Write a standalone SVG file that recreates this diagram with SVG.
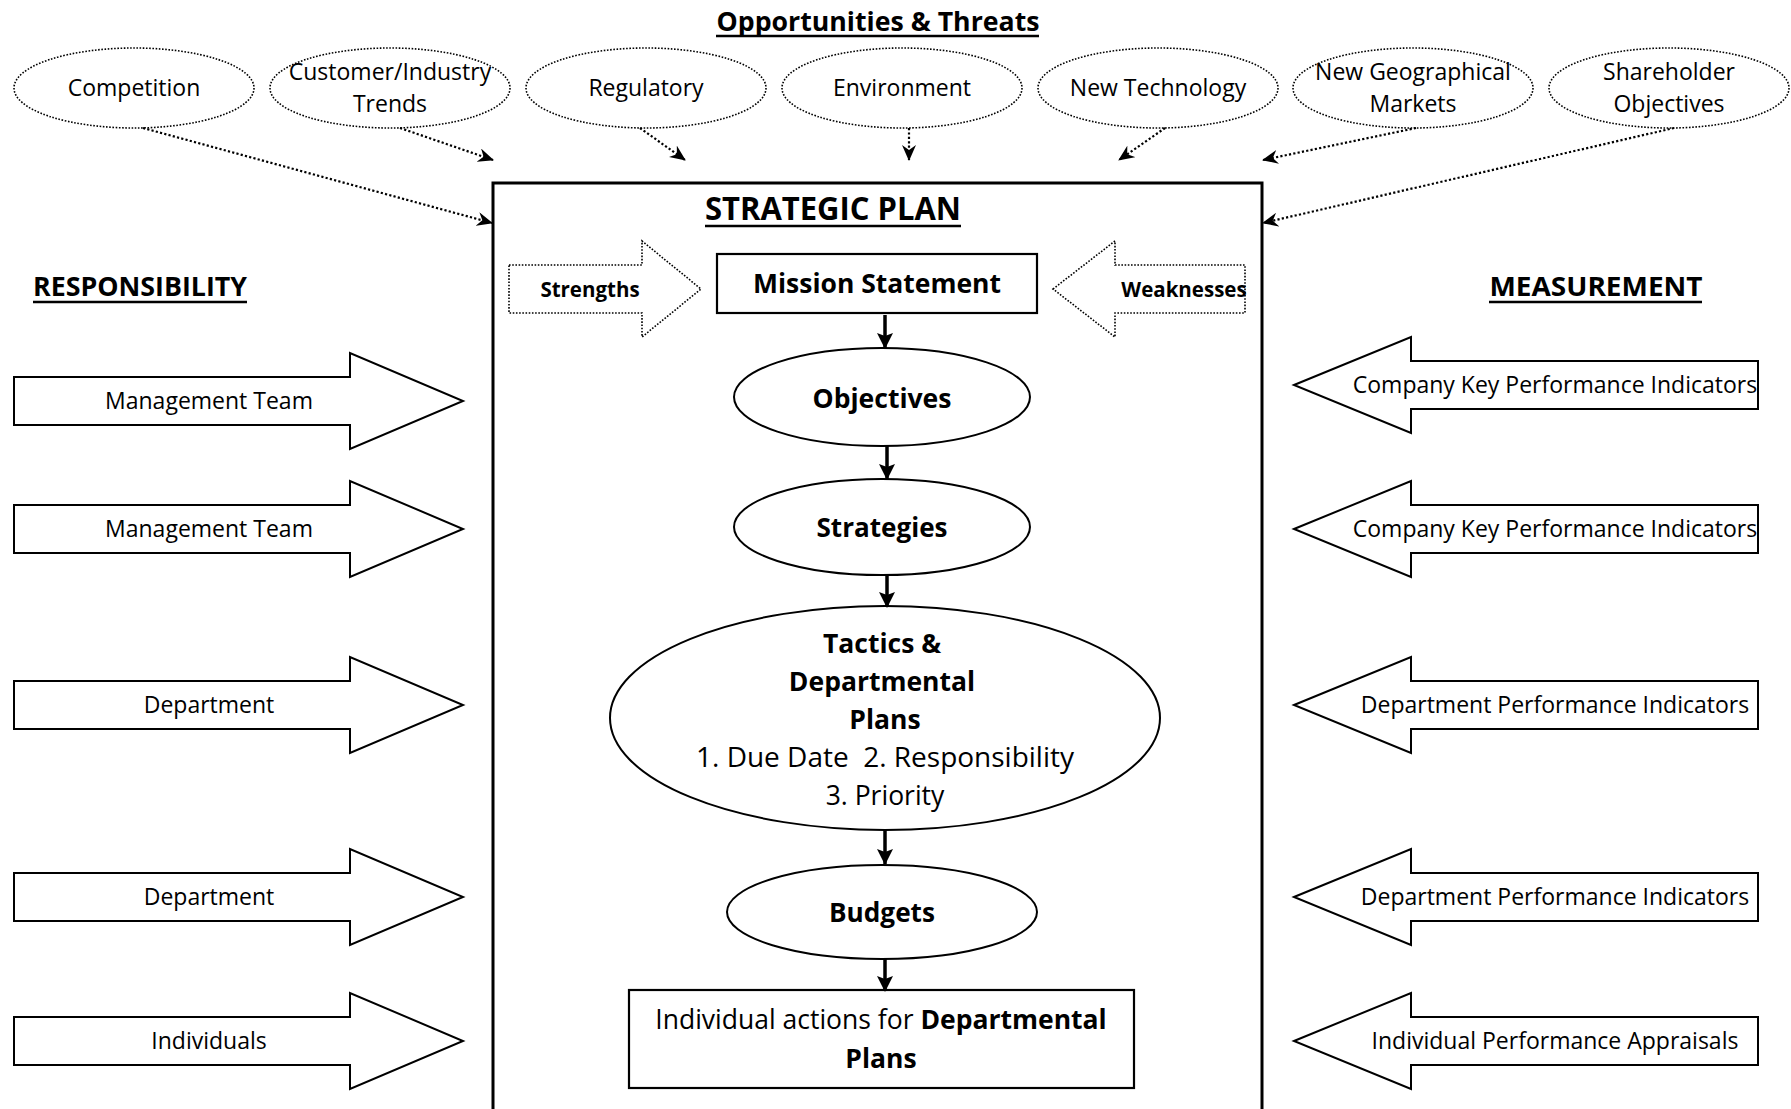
<svg xmlns="http://www.w3.org/2000/svg" width="1791" height="1109" viewBox="0 0 1791 1109">
  <defs>
    <style>
      text { font-family: "Open Sans", "Noto Sans", "Liberation Sans", sans-serif; fill: #000; text-anchor: middle; }
      .lbl { font-size: 23px; }
      .big { font-size: 26.5px; }
      .b { font-weight: bold; }
      .node { font-size: 26px; font-weight: bold; }
      .title { font-size: 27px; font-weight: bold; }
      .swot { font-size: 20.5px; font-weight: bold; }
      .ul { stroke: #000; stroke-width: 2.5; }
      .dotted-oval { fill: #fff; stroke: #000; stroke-width: 1.6; stroke-dasharray: 1.6 1.6; }
      .dotted-shape { fill: #fff; stroke: #000; stroke-width: 1.6; stroke-dasharray: 1.6 1.6; }
      .shape { fill: #fff; stroke: #000; stroke-width: 2; }
      .block { fill: #fff; stroke: #000; stroke-width: 2.2; }
      .dotted-link { fill: none; stroke: #000; stroke-width: 2.2; stroke-dasharray: 2.2 2.2; marker-end: url(#stealth); }
      .flow { fill: none; stroke: #000; stroke-width: 3.5; marker-end: url(#solid-head); }
    </style>
    <marker id="stealth" viewBox="0 0 16 14" refX="15" refY="7" markerWidth="16" markerHeight="14" markerUnits="userSpaceOnUse" orient="auto">
      <path d="M0,0 L16,7 L0,14 L5,7 Z" fill="#000"/>
    </marker>
    <marker id="solid-head" viewBox="0 0 16 16" refX="15" refY="8" markerWidth="16" markerHeight="16" markerUnits="userSpaceOnUse" orient="auto">
      <path d="M0,0 L16,8 L0,16 L3,8 Z" fill="#000"/>
    </marker>
  </defs>

  <rect width="1791" height="1109" fill="#fff"/>

  <!-- Heading of the external factors -->
  <g id="heading-opportunities">
    <text class="title" x="878" y="31" textLength="323" lengthAdjust="spacingAndGlyphs">Opportunities &amp; Threats</text>
    <line class="ul" x1="716" y1="36" x2="1039" y2="36"/>
  </g>

  <!-- External factors (dotted ovals) -->
  <g id="competition">
    <ellipse class="dotted-oval" cx="134" cy="88" rx="120" ry="40"/>
    <text class="lbl" x="134" y="96">Competition</text>
  </g>
  <g id="customer-trends">
    <ellipse class="dotted-oval" cx="390" cy="88" rx="120" ry="40"/>
    <text class="lbl" x="390" y="80">Customer/Industry</text>
    <text class="lbl" x="390" y="112">Trends</text>
  </g>
  <g id="regulatory">
    <ellipse class="dotted-oval" cx="646" cy="88" rx="120" ry="40"/>
    <text class="lbl" x="646" y="96">Regulatory</text>
  </g>
  <g id="environment">
    <ellipse class="dotted-oval" cx="902" cy="88" rx="120" ry="40"/>
    <text class="lbl" x="902" y="96">Environment</text>
  </g>
  <g id="new-technology">
    <ellipse class="dotted-oval" cx="1158" cy="88" rx="120" ry="40"/>
    <text class="lbl" x="1158" y="96">New Technology</text>
  </g>
  <g id="new-markets">
    <ellipse class="dotted-oval" cx="1413" cy="88" rx="120" ry="40"/>
    <text class="lbl" x="1413" y="80">New Geographical</text>
    <text class="lbl" x="1413" y="112">Markets</text>
  </g>
  <g id="shareholder-objectives">
    <ellipse class="dotted-oval" cx="1669" cy="88" rx="120" ry="40"/>
    <text class="lbl" x="1669" y="80">Shareholder</text>
    <text class="lbl" x="1669" y="112">Objectives</text>
  </g>

  <!-- Strategic plan frame -->
  <g id="strategic-plan">
    <rect x="493" y="183" width="769" height="960" fill="none" stroke="#000" stroke-width="3"/>
    <text x="833" y="220" style="font-size:32px;font-weight:bold" textLength="256" lengthAdjust="spacingAndGlyphs">STRATEGIC PLAN</text>
    <line class="ul" x1="705" y1="226" x2="961" y2="226"/>
  </g>

  <g id="strengths">
    <polygon class="dotted-shape" points="509,265 642,265 642,241 701,289 642,337 642,313 509,313"/>
    <text class="swot" x="590" y="297">Strengths</text>
  </g>
  <g id="weaknesses">
    <polygon class="dotted-shape" points="1053,289 1115,241 1115,265 1245,265 1245,313 1115,313 1115,337"/>
    <text class="swot" x="1184" y="297">Weaknesses</text>
  </g>

  <g id="mission-statement">
    <rect class="block" x="717" y="254" width="320" height="59"/>
    <text class="node" x="877" y="293" textLength="248" lengthAdjust="spacingAndGlyphs">Mission Statement</text>
  </g>
  <g id="objectives">
    <ellipse class="shape" cx="882" cy="397" rx="148" ry="49"/>
    <text class="node" x="882" y="408" textLength="139" lengthAdjust="spacingAndGlyphs">Objectives</text>
  </g>
  <g id="strategies">
    <ellipse class="shape" cx="882" cy="527" rx="148" ry="48"/>
    <text class="node" x="882" y="537" textLength="131" lengthAdjust="spacingAndGlyphs">Strategies</text>
  </g>
  <g id="tactics">
    <ellipse class="shape" cx="885" cy="718" rx="275" ry="112"/>
    <text class="big b" x="882" y="653">Tactics &amp;</text>
    <text class="big b" x="882" y="691">Departmental</text>
    <text class="big b" x="885" y="729">Plans</text>
    <text class="big" x="885" y="767" xml:space="preserve" textLength="378" lengthAdjust="spacingAndGlyphs">1. Due Date  2. Responsibility</text>
    <text class="big" x="885" y="805">3. Priority</text>
  </g>
  <g id="budgets">
    <ellipse class="shape" cx="882" cy="912" rx="155" ry="47"/>
    <text class="node" x="882" y="922" textLength="106" lengthAdjust="spacingAndGlyphs">Budgets</text>
  </g>
  <g id="individual-actions">
    <rect class="block" x="629" y="990" width="505" height="98"/>
    <text class="big" x="881" y="1029">Individual actions for <tspan class="b">Departmental</tspan></text>
    <text class="big b" x="881" y="1068">Plans</text>
  </g>

  <!-- Responsibility column -->
  <g id="heading-responsibility">
    <text class="title" x="140" y="296" textLength="214" lengthAdjust="spacingAndGlyphs">RESPONSIBILITY</text>
    <line class="ul" x1="33" y1="302" x2="247" y2="302"/>
  </g>
  <g id="resp-management-1">
    <polygon class="shape" points="14,377 350,377 350,353 463,401 350,449 350,425 14,425"/>
    <text class="lbl" x="209" y="409">Management Team</text>
  </g>
  <g id="resp-management-2">
    <polygon class="shape" points="14,505 350,505 350,481 463,529 350,577 350,553 14,553"/>
    <text class="lbl" x="209" y="537">Management Team</text>
  </g>
  <g id="resp-department-1">
    <polygon class="shape" points="14,681 350,681 350,657 463,705 350,753 350,729 14,729"/>
    <text class="lbl" x="209" y="713">Department</text>
  </g>
  <g id="resp-department-2">
    <polygon class="shape" points="14,873 350,873 350,849 463,897 350,945 350,921 14,921"/>
    <text class="lbl" x="209" y="905">Department</text>
  </g>
  <g id="resp-individuals">
    <polygon class="shape" points="14,1017 350,1017 350,993 463,1041 350,1089 350,1065 14,1065"/>
    <text class="lbl" x="209" y="1049">Individuals</text>
  </g>

  <!-- Measurement column -->
  <g id="heading-measurement">
    <text class="title" x="1596" y="296" textLength="213" lengthAdjust="spacingAndGlyphs">MEASUREMENT</text>
    <line class="ul" x1="1489" y1="302" x2="1702" y2="302"/>
  </g>
  <g id="meas-company-kpi-1">
    <polygon class="shape" points="1294,385 1411,337 1411,361 1758,361 1758,409 1411,409 1411,433"/>
    <text class="lbl" x="1555" y="393">Company Key Performance Indicators</text>
  </g>
  <g id="meas-company-kpi-2">
    <polygon class="shape" points="1294,529 1411,481 1411,505 1758,505 1758,553 1411,553 1411,577"/>
    <text class="lbl" x="1555" y="537">Company Key Performance Indicators</text>
  </g>
  <g id="meas-department-1">
    <polygon class="shape" points="1294,705 1411,657 1411,681 1758,681 1758,729 1411,729 1411,753"/>
    <text class="lbl" x="1555" y="713">Department Performance Indicators</text>
  </g>
  <g id="meas-department-2">
    <polygon class="shape" points="1294,897 1411,849 1411,873 1758,873 1758,921 1411,921 1411,945"/>
    <text class="lbl" x="1555" y="905">Department Performance Indicators</text>
  </g>
  <g id="meas-individual">
    <polygon class="shape" points="1294,1041 1411,993 1411,1017 1758,1017 1758,1065 1411,1065 1411,1089"/>
    <text class="lbl" x="1555" y="1049">Individual Performance Appraisals</text>
  </g>

  <!-- Connectors -->
  <g id="connectors">
    <path class="dotted-link" d="M143,128 L492,223"/>
    <path class="dotted-link" d="M400,128 L493,160"/>
    <path class="dotted-link" d="M640,128 L685,160"/>
    <path class="dotted-link" d="M909,128 L909,160"/>
    <path class="dotted-link" d="M1165,128 L1119,160"/>
    <path class="dotted-link" d="M1416,128 L1263,160"/>
    <path class="dotted-link" d="M1674,128 L1263,223"/>

    <path class="flow" d="M885,315 L885,348"/>
    <path class="flow" d="M887,446 L887,479"/>
    <path class="flow" d="M887,575 L887,607"/>
    <path class="flow" d="M885,830 L885,864"/>
    <path class="flow" d="M885,959 L885,991"/>
  </g>
</svg>
